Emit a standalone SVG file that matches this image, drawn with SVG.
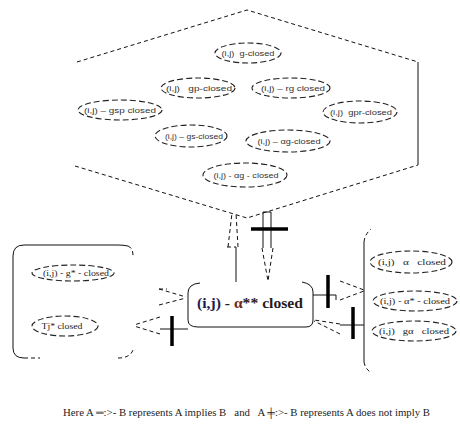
<svg xmlns="http://www.w3.org/2000/svg" width="460" height="426" viewBox="0 0 460 426">
<style>
.bg{fill:#fff}
.ln{fill:none;stroke:#111;stroke-width:1}
.dsh{fill:none;stroke:#111;stroke-width:1;stroke-dasharray:4,3}
.ell{fill:none;stroke:#222;stroke-width:1.1;stroke-dasharray:6,3}
.bar{fill:none;stroke:#000;stroke-width:3.5}
.sans{font-family:'Liberation Sans',Arial,sans-serif;font-size:8px;fill:#333}
.serif{font-family:'Liberation Serif','DejaVu Serif',serif;font-size:8.5px;fill:#222}
.main{font-family:'Liberation Serif','DejaVu Serif',serif;font-size:15px;font-weight:bold}
.leg{font-family:'Liberation Serif','DejaVu Serif',serif;font-size:9.5px;fill:#222}
</style>
<rect class="bg" x="0" y="0" width="460" height="426"/>

<g id="hexagon">
  <path class="dsh" d="M77,62 L247,10 L418,62"/>
  <path class="ln" d="M418,62 L418,165"/>
  <path class="dsh" d="M75,166 L247,218 L418,165"/>
  <g id="e1"><ellipse class="ell" cx="248" cy="53" rx="33" ry="10"/><text class="sans" x="248" y="56" text-anchor="middle" textLength="53" lengthAdjust="spacingAndGlyphs" xml:space="preserve">(i,j)  g-closed</text></g>
  <g id="e2"><ellipse class="ell" cx="198" cy="88" rx="37" ry="10"/><text class="sans" x="199" y="91" text-anchor="middle" textLength="66" lengthAdjust="spacingAndGlyphs" xml:space="preserve">(i,j)   gp-closed</text></g>
  <g id="e3"><ellipse class="ell" cx="291" cy="88" rx="39" ry="10"/><text class="sans" x="293" y="91" text-anchor="middle" textLength="64" lengthAdjust="spacingAndGlyphs">(i,j) – rg closed</text></g>
  <g id="e4"><ellipse class="ell" cx="120" cy="110" rx="42" ry="10"/><text class="sans" x="120" y="113" text-anchor="middle" textLength="72" lengthAdjust="spacingAndGlyphs">(i,j) – gsp closed</text></g>
  <g id="e5"><ellipse class="ell" cx="360" cy="112" rx="37" ry="11"/><text class="sans" x="361" y="115" text-anchor="middle" textLength="62" lengthAdjust="spacingAndGlyphs" xml:space="preserve">(i,j)  gpr-closed</text></g>
  <g id="e6"><ellipse class="ell" cx="191" cy="136" rx="36" ry="11"/><text class="sans" x="194" y="139" text-anchor="middle" textLength="58" lengthAdjust="spacingAndGlyphs">(i,j) – gs-closed</text></g>
  <g id="e7"><ellipse class="ell" cx="288" cy="141" rx="42" ry="11"/><text class="sans" x="289" y="144" text-anchor="middle" textLength="63" lengthAdjust="spacingAndGlyphs">(i,j) – αg-closed</text></g>
  <g id="e8"><ellipse class="ell" cx="245" cy="175" rx="42" ry="12"/><text class="sans" x="246" y="178" text-anchor="middle" textLength="65" lengthAdjust="spacingAndGlyphs">(i,j) - αg - closed</text></g>
</g>

<g id="central">
  <path class="ln" d="M200,283 Q188,284 188,293 L188,320 Q188,327 198,327 L306,327 Q313,327 313,320 L313,292 Q313,284 302,282"/>
  <text class="main" font-family="'Liberation Serif','DejaVu Serif',serif" x="250" y="308" text-anchor="middle" textLength="106" lengthAdjust="spacingAndGlyphs"><tspan fill="#1c1c50">(i,j)</tspan><tspan fill="#2a1a1a"> - </tspan><tspan fill="#6a2818">α</tspan><tspan fill="#2a1a1a">** closed</tspan></text>
</g>

<g id="leftbox">
  <path class="ln" d="M128,246 Q123,245 118,245 L24,245 Q13,245 13,256 L13,348 Q13,358 24,358"/>
  <path class="dsh" d="M128,246 Q133,248 133,256"/>
  <path class="dsh" d="M24,358 L40,358 M118,358 Q130,358 133,350"/>
  <g id="l1"><ellipse class="ell" cx="73" cy="273" rx="41" ry="8"/><text class="serif" x="76" y="276" text-anchor="middle" textLength="66" lengthAdjust="spacingAndGlyphs">(i,j) - g* - closed</text></g>
  <g id="l2"><ellipse class="ell" cx="65" cy="326" rx="33" ry="10"/><text class="serif" x="62" y="329" text-anchor="middle" textLength="41" lengthAdjust="spacingAndGlyphs">Tj* closed</text></g>
</g>

<g id="rightbox">
  <path class="ln" d="M364,242 L364,362"/>
  <path class="dsh" d="M364,242 Q365,234 371,229 M364,362 Q365,368 370,372"/>
  <g id="r1"><ellipse class="ell" cx="411" cy="262" rx="41" ry="11"/><text class="serif" x="412" y="265" text-anchor="middle" textLength="68" lengthAdjust="spacingAndGlyphs" xml:space="preserve">(i,j)   α   closed</text></g>
  <g id="r2"><ellipse class="ell" cx="415" cy="301" rx="42" ry="10"/><text class="serif" x="415" y="304" text-anchor="middle" textLength="70" lengthAdjust="spacingAndGlyphs">(i,j) - α* - closed</text></g>
  <g id="r3"><ellipse class="ell" cx="414" cy="331" rx="42" ry="10"/><text class="serif" x="414" y="334" text-anchor="middle" textLength="70" lengthAdjust="spacingAndGlyphs" xml:space="preserve">(i,j)   gα   closed</text></g>
</g>

<g id="connectors">
  <path class="ln" d="M236,282 L236,247"/>
  <path class="dsh" d="M227,247 L236,247 M228,247 L232,213 M238,247 L236,213"/>
  <path class="ln" d="M263,248 L263,212 L271,212 L271,248"/>
  <path class="bar" d="M251,229 L288,229"/>
  <path class="dsh" d="M262,248 L268,281 M273,248 L268,281"/>
  <path class="dsh" d="M159,289 L167,289 M159,289 L186,297 M159,305 L186,298"/>
  <path class="ln" d="M160,329 L188,329"/>
  <path class="bar" d="M172,316 L172,346"/>
  <path class="dsh" d="M160,317 L134,325 M160,334 L134,326"/>
  <path class="ln" d="M313,295 L336,295 L336,300"/>
  <path class="bar" d="M328,275 L328,308"/>
  <path class="dsh" d="M340,281 L364,290 M340,300 L364,291"/>
  <path class="ln" d="M340,325 L364,325"/>
  <path class="bar" d="M353,307 L353,339"/>
  <path class="dsh" d="M340,324 L314,320 M340,334 L314,321"/>
</g>

<text class="leg" font-family="'Liberation Serif','DejaVu Serif',serif" x="63" y="416" textLength="367" lengthAdjust="spacingAndGlyphs" xml:space="preserve">Here A ═:&gt;- B represents A implies B   and   A ╪:&gt;- B represents A does not imply B</text>
</svg>
